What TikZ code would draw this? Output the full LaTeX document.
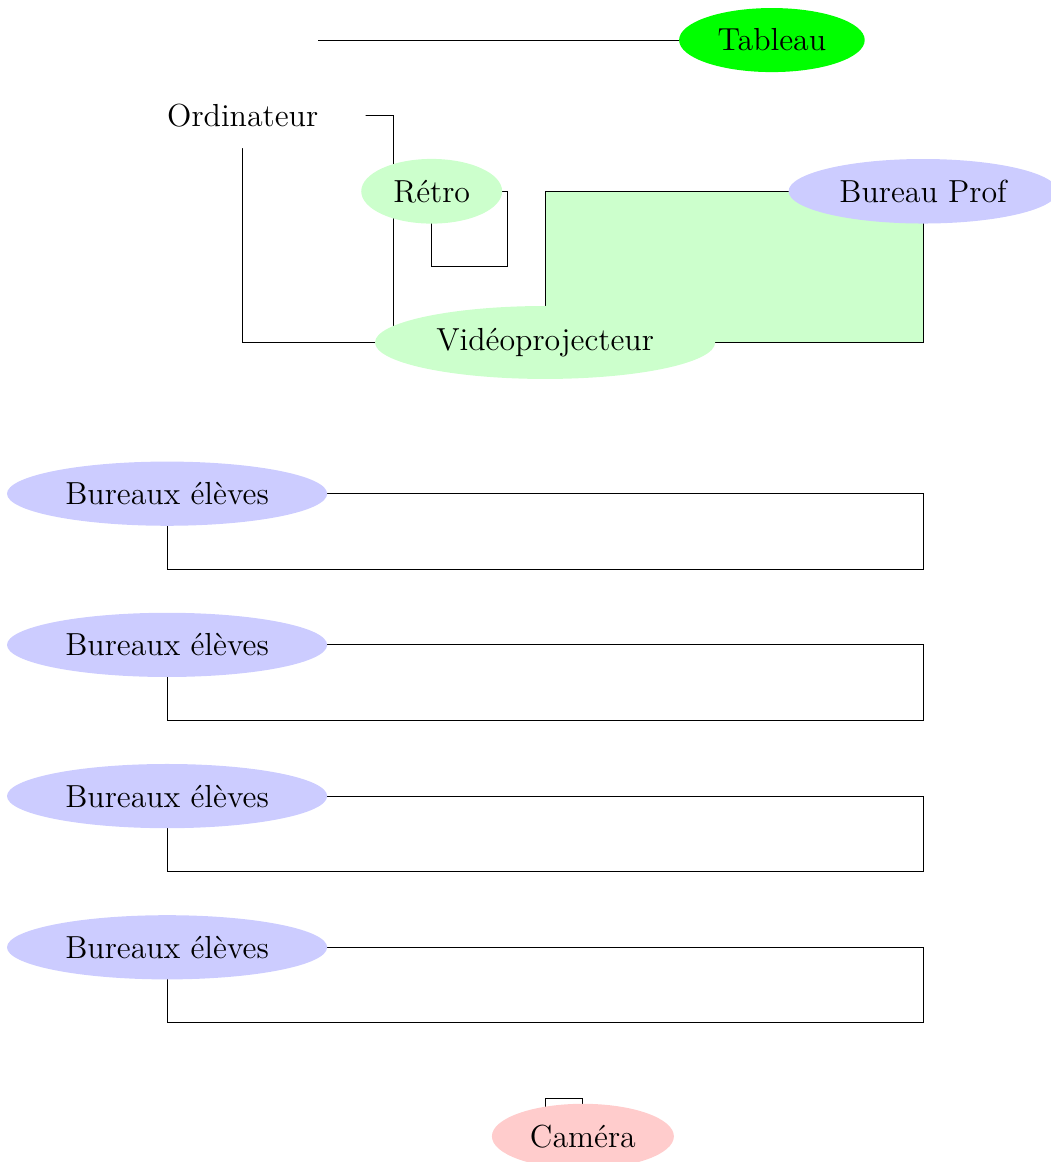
\documentclass[tikz,border=0pt]{standalone}
\usepackage{tikz}
\usetikzlibrary{shapes.geometric}

\begin{document}
\begin{tikzpicture}[
        place/.style={ellipse, inner sep=4.3pt, font=\large},
        desk/.style={draw}
      ]
      \useasboundingbox (-2.21,0.53) rectangle (11.69,-14.84);
      % furniture
      \draw[desk] (2,0) -- (8,0);
      \draw[desk] (1,-1) rectangle (3,-4);
      \draw[desk] (3.5,-2) rectangle (4.5,-3);
      \draw[desk, fill=green!20] (5,-2) rectangle (10,-4);
      \foreach \y in {6,8,10,12}
        \draw[desk] (0,-\y) rectangle (10,-\y-1);
      \draw[desk] (5,-14) rectangle (5.5,-14.5);
      % labels
      \node[place, fill=green] (tableau) at (8,0) {Tableau};
      \node[place, fill=white] (ordi) at (1,-1) {Ordinateur};
      \node[place, fill=green!20] (retro) at (3.5,-2) {Rétro};
      \node[place, fill=blue!20] (prof) at (10,-2) {Bureau Prof};
      \node[place, fill=green!20] (video) at (5,-4) {Vidéoprojecteur};
      \foreach \y/\n in {6/1,8/2,10/3,12/4}
        \node[place, fill=blue!20] (eleves\n) at (0,-\y) {Bureaux élèves};
      \node[place, fill=red!20] (camera) at (5.5,-14.5) {Caméra};
    \end{tikzpicture}
\end{document}
